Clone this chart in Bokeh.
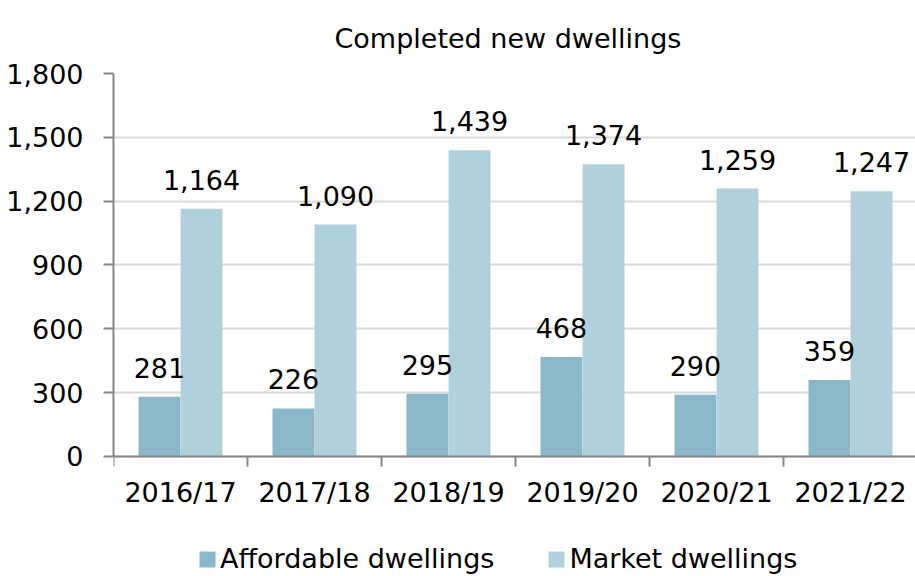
from bokeh.plotting import figure
from bokeh.models import (ColumnDataSource, Range1d, FixedTicker, NumeralTickFormatter,
                          Legend, LegendItem)
from bokeh.core.properties import value
from bokeh.embed import file_html
from bokeh.resources import INLINE

years = ["2016/17", "2017/18", "2018/19", "2019/20", "2020/21", "2021/22"]
affordable = [281, 226, 295, 468, 290, 359]
market = [1164, 1090, 1439, 1374, 1259, 1247]
y_ticks = [0, 300, 600, 900, 1200, 1500, 1800]

FONT = "DejaVu Sans"
FS = "27px"
C_AFF = "#8AB8C9"
C_MKT = "#B0D0DC"

idx = list(range(len(years)))
src_a = ColumnDataSource(dict(x=[i + 0.343 for i in idx], top=affordable,
                              lab=[f"{v:,}" for v in affordable]))
src_m = ColumnDataSource(dict(x=[i + 0.657 for i in idx], top=market,
                              lab=[f"{v:,}" for v in market]))

# frame extends below zero so that axis labels and legend sit inside it
p = figure(frame_width=802, frame_height=503, output_backend="svg", toolbar_location=None,
           x_range=Range1d(0, 802 / 134), y_range=Range1d(-564, 1800),
           min_border_left=113, min_border_right=0, min_border_top=73, min_border_bottom=0,
           title="Completed new dwellings")
p.outline_line_color = None
p.title.align = "left"
p.title.offset = 221
p.title.text_font = FONT
p.title.text_font_size = FS
p.title.text_font_style = "normal"
p.title.text_color = "black"
p.title.standoff = 39

ra = p.vbar(x="x", top="top", bottom=0, width=0.313, source=src_a, fill_color=C_AFF, line_color=None)
rm = p.vbar(x="x", top="top", bottom=0, width=0.313, source=src_m, fill_color=C_MKT, line_color=None)

for src in (src_a, src_m):
    p.text(x="x", y="top", text="lab", source=src, text_align="center",
           text_baseline="alphabetic", y_offset=-29, text_font=value(FONT),
           text_font_size=FS, text_color="black")

# y axis
p.yaxis.ticker = FixedTicker(ticks=y_ticks)
p.yaxis.bounds = (0, 1800)
p.yaxis.formatter = NumeralTickFormatter(format="0,0")
p.yaxis.major_label_text_font = FONT
p.yaxis.major_label_text_font_size = FS
p.yaxis.major_label_text_color = "black"
p.yaxis.axis_line_color = "#868686"
p.yaxis.major_tick_line_color = "#868686"
p.yaxis.major_tick_out = 10
p.yaxis.major_tick_in = 0
p.yaxis.minor_tick_line_color = None
p.yaxis.major_label_standoff = 20
p.yaxis.axis_line_width = 2
p.yaxis.major_tick_line_width = 2

# x axis, fixed at y = 0
p.xaxis.fixed_location = 0
p.xaxis.ticker = FixedTicker(ticks=[i + 0.5 for i in idx], minor_ticks=idx)
p.xaxis.major_label_overrides = {i + 0.5: y for i, y in zip(idx, years)}
p.xaxis.major_label_text_font = FONT
p.xaxis.major_label_text_font_size = FS
p.xaxis.major_label_text_color = "black"
p.xaxis.axis_line_color = "#868686"
p.xaxis.axis_line_width = 2
p.xaxis.major_tick_line_color = None
p.xaxis.major_tick_out = 0
p.xaxis.major_tick_in = 0
p.xaxis.minor_tick_line_color = "#868686"
p.xaxis.minor_tick_line_width = 2
p.xaxis.minor_tick_out = 10
p.xaxis.minor_tick_in = 0
p.xaxis.major_label_standoff = 11

p.xgrid.grid_line_color = None
p.ygrid.ticker = FixedTicker(ticks=y_ticks)
p.ygrid.grid_line_color = "#D9D9D9"
p.ygrid.grid_line_width = 2

legend = Legend(items=[LegendItem(label="Affordable dwellings", renderers=[ra]),
                       LegendItem(label="Market dwellings", renderers=[rm])],
                orientation="horizontal", location=(84, 2),
                label_text_font=FONT, label_text_font_size=FS, label_text_color="black",
                glyph_width=20, glyph_height=20, label_standoff=3, spacing=52,
                padding=0, margin=0, border_line_color=None, background_fill_alpha=0)
p.add_layout(legend, "center")

open("out.html", "w").write(file_html(p, INLINE))
